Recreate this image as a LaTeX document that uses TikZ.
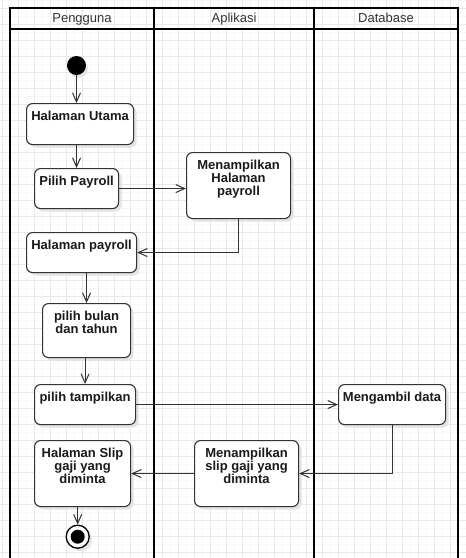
\documentclass[tikz,border=0pt]{standalone}
\usepackage{fontspec}
\setmainfont{Liberation Sans}
\usetikzlibrary{arrows.meta,calc}
\definecolor{gridmaj}{HTML}{E8E8E8}
\definecolor{gridmin}{HTML}{F7F7F7}
\definecolor{edgec}{HTML}{333333}
\definecolor{txtc}{HTML}{1A1A1A}
\begin{document}
\begin{tikzpicture}[x=1pt,y=-1pt,
  act/.style={draw=edgec, line width=1.1pt, rounded corners=6pt, fill=white,
    inner sep=0pt, anchor=north west,
    preaction={fill=black!11, transform canvas={xshift=3pt,yshift=-3pt}}},
  lab/.style={anchor=north, inner sep=0pt, yshift=-7.5pt, align=center,
    font=\bfseries\fontsize{13}{13.2}\selectfont, text=txtc},
  head/.style={anchor=base, inner sep=0pt, font=\fontsize{13}{13}\selectfont, text=edgec},
  lane/.style={line width=2pt, draw=black},
  arr/.style={draw=edgec, line width=1pt, -{Straight Barb[length=9pt,width=8pt,line width=1pt]}},
]
\useasboundingbox (0,0) rectangle (466,558);
\fill[white] (0,0) rectangle (466,558);
% grid
\foreach \x in {10.5,26.5,...,466} \draw[gridmin, line width=0.6pt] (\x,0) -- (\x,558);
\foreach \y in {0,16,...,558} \draw[gridmin, line width=0.6pt] (0,\y) -- (466,\y);
\foreach \x in {2.5,18.5,...,466} \draw[gridmaj, line width=0.8pt] (\x,0) -- (\x,558);
\foreach \y in {8,24,...,558} \draw[gridmaj, line width=0.8pt] (0,\y) -- (466,\y);

% swimlanes
\draw[lane] (10,8) -- (458,8);
\draw[lane] (10,29) -- (458,29);
\draw[lane] (10,7) -- (10,559);
\draw[lane] (154,7) -- (154,559);
\draw[lane] (314,7) -- (314,559);
\draw[lane] (458,7) -- (458,559);
\node[head] (h1) at (82,22.5) {Pengguna};
\node[head] (h2) at (234,22.5) {Aplikasi};
\node[head] (h3) at (386,22.5) {Database};

% start
\fill[black!10] (78.5,68.5) circle (9.5);
\node[circle, fill=black, minimum size=19pt, inner sep=0pt] (start) at (76.5,65.5) {};

% activities
\node[act, minimum width=107pt, minimum height=41pt, label={[lab]north:Halaman Utama}] (hu) at (26,103) {};
\node[act, minimum width=84pt, minimum height=40pt, label={[lab]north:Pilih Payroll}] (pp) at (34,168) {};
\node[act, minimum width=104pt, minimum height=66pt, label={[lab]north:{Menampilkan\\Halaman\\payroll}}] (mhp) at (186,152) {};
\node[act, minimum width=110pt, minimum height=40pt, label={[lab]north:Halaman payroll}] (hp) at (26,232) {};
\node[act, minimum width=88pt, minimum height=54pt, label={[lab]north:{pilih bulan\\dan tahun}}] (pbt) at (42,303) {};
\node[act, minimum width=101pt, minimum height=40pt, label={[lab]north:pilih tampilkan}] (pt) at (34,384) {};
\node[act, minimum width=107pt, minimum height=40pt, label={[lab]north:Mengambil data}] (md) at (338,384) {};
\node[act, minimum width=104pt, minimum height=66pt, label={[lab]north:{Menampilkan\\slip gaji yang\\diminta}}] (msg) at (194,440) {};
\node[act, minimum width=96pt, minimum height=66pt, label={[lab]north:{Halaman Slip\\gaji yang\\diminta}}] (hs) at (34,440) {};

% end
\fill[black!10] (80.5,539.5) circle (11.7);
\node[circle, draw=black, line width=1.3pt, fill=white, minimum size=23pt, inner sep=0pt] (end) at (77.7,536.7) {};
\fill[black] (end.center) circle (7);

% connectors
\draw[arr] (start) -- (start |- hu.north);
\draw[arr] (hu.south -| pp.north) -- (pp.north);
\draw[arr] (pp.east) -- (pp.east -| mhp.west);
\draw[arr] (mhp.south) -- (mhp.south |- hp.east) -- (hp.east);
\draw[arr] (pbt.north |- hp.south) -- (pbt.north);
\draw[arr] (pt.north |- pbt.south) -- (pt.north);
\draw[arr] (pt.east) -- (md.west);
\draw[arr] (md.south) -- (md.south |- msg.east) -- (msg.east);
\draw[arr] (msg.west) -- (hs.east);
\draw[arr] (end |- hs.south) -- (end.north);
\end{tikzpicture}
\end{document}
